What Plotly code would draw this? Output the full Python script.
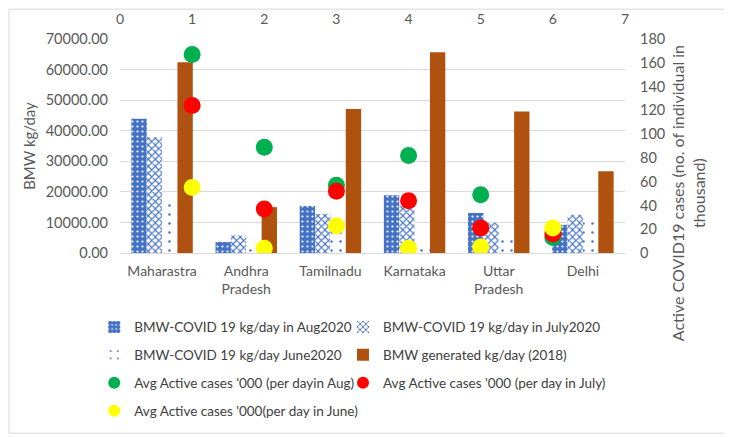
import plotly.graph_objects as go

# 数据
states = ["Maharastra", "Andhra<br>Pradesh", "Tamilnadu", "Karnataka", "Uttar<br>Pradesh", "Delhi"]
bmw_aug = [43900, 3600, 15400, 18900, 13100, 9200]
bmw_july = [37900, 5700, 12800, 15500, 9900, 12500]
bmw_june = [17500, 3300, 7900, 2500, 5700, 11000]
bmw_2018 = [62400, 15000, 47100, 65700, 46300, 26700]

pos = [1, 2, 3, 4, 5, 6]
cases_aug = [167, 89, 57, 82, 49, 13]
cases_july = [124, 37, 52, 44, 21, 16]
cases_june = [55, 4, 23, 4, 5, 21]

blue = "#4472C4"
brown = "#B0520F"
font = "Lato"

fig = go.Figure()

fig.add_trace(go.Bar(
    x=states, y=bmw_aug, name="BMW-COVID 19 kg/day in Aug2020", legend="legend",
    marker=dict(color=blue, line=dict(width=0),
                pattern=dict(shape=".", fgcolor="white", bgcolor=blue, size=5, solidity=0.15, fillmode="replace"))
))
fig.add_trace(go.Bar(
    x=states, y=bmw_july, name="BMW-COVID 19 kg/day in July2020", legend="legend2",
    marker=dict(color=blue, line=dict(width=0),
                pattern=dict(shape="x", fgcolor=blue, bgcolor="white", size=5, solidity=0.4, fillmode="replace"))
))
fig.add_trace(go.Bar(
    x=states, y=bmw_june, name="BMW-COVID 19 kg/day June2020", legend="legend3",
    marker=dict(color=blue, line=dict(width=0),
                pattern=dict(shape=".", fgcolor=blue, bgcolor="white", size=9, solidity=0.06, fillmode="replace"))
))
fig.add_trace(go.Bar(
    x=states, y=bmw_2018, name="BMW generated kg/day (2018)", legend="legend4",
    marker=dict(color=brown, line=dict(width=0))
))

# 散点 - 活跃病例（次坐标轴）
for vals, col, nm, lg in [
    (cases_aug, "#00B050", "Avg Active cases '000 (per dayin Aug)", "legend5"),
    (cases_july, "#FF0000", "Avg Active cases '000 (per day in July)", "legend6"),
    (cases_june, "#FFFF00", "Avg Active cases '000(per day in June)", "legend7"),
]:
    fig.add_trace(go.Scatter(
        x=pos, y=vals, name=nm, mode="markers", legend=lg,
        marker=dict(color=col, size=17, line=dict(width=0)),
        xaxis="x2", yaxis="y2"
    ))

# 图例：每个条目单独放置，两列
col_x = [-0.051, 0.4416]
row_y = [-0.34, -0.47, -0.60, -0.73]


def one_legend(c, r):
    return dict(orientation="h", x=col_x[c], y=row_y[r], xanchor="left", yanchor="middle",
                font=dict(family=font, size=13.5, color="#404040"),
                itemsizing="constant", bgcolor="rgba(0,0,0,0)")


fig.update_layout(
    width=724, height=429,
    margin=dict(l=112, r=107, t=31, b=183),
    paper_bgcolor="white", plot_bgcolor="white",
    font=dict(family=font, size=14, color="#595959"),
    barmode="group", bargap=0.27, bargroupgap=0,
    showlegend=True,
    legend=one_legend(0, 0),
    legend2=one_legend(1, 0),
    legend3=one_legend(0, 1),
    legend4=one_legend(1, 1),
    legend5=one_legend(0, 2),
    legend6=one_legend(1, 2),
    legend7=one_legend(0, 3),
    xaxis=dict(type="category", showgrid=False, showline=True, linecolor="#D9D9D9",
               ticks="", tickfont=dict(size=14), automargin=False, ticklabelstandoff=5),
    yaxis=dict(range=[0, 70000], dtick=10000, tickformat=".2f", showgrid=True,
               gridcolor="#D9D9D9", zeroline=False, ticks="", automargin=False,
               ticklabelstandoff=11, tickfont=dict(size=14.5),
               title=dict(text="BMW kg/day", font=dict(size=15), standoff=6)),
    xaxis2=dict(overlaying="x", side="top", range=[0, 7], dtick=1, showgrid=False,
                zeroline=False, showline=False, ticks="", anchor="y2", automargin=False,
                ticklabelstandoff=11),
    yaxis2=dict(overlaying="y", side="right", range=[0, 180], dtick=20, showgrid=False,
                zeroline=False, ticks="", anchor="x2", automargin=False,
                ticklabelstandoff=14, tickfont=dict(size=14.5)),
    annotations=[dict(
        text="Active COVID19 cases (no. of individual in<br>thousand)",
        xref="paper", yref="paper", x=1.125, y=0.28, xanchor="center", yanchor="middle",
        textangle=-90, showarrow=False, font=dict(family=font, size=16, color="#595959"),
    )],
    shapes=[dict(type="rect", xref="paper", yref="paper", x0=-0.2198, x1=1.2079,
                 y0=-0.8419, y1=1.1395, line=dict(color="#D9D9D9", width=1), layer="below")],
)

fig.write_html("out.html")
